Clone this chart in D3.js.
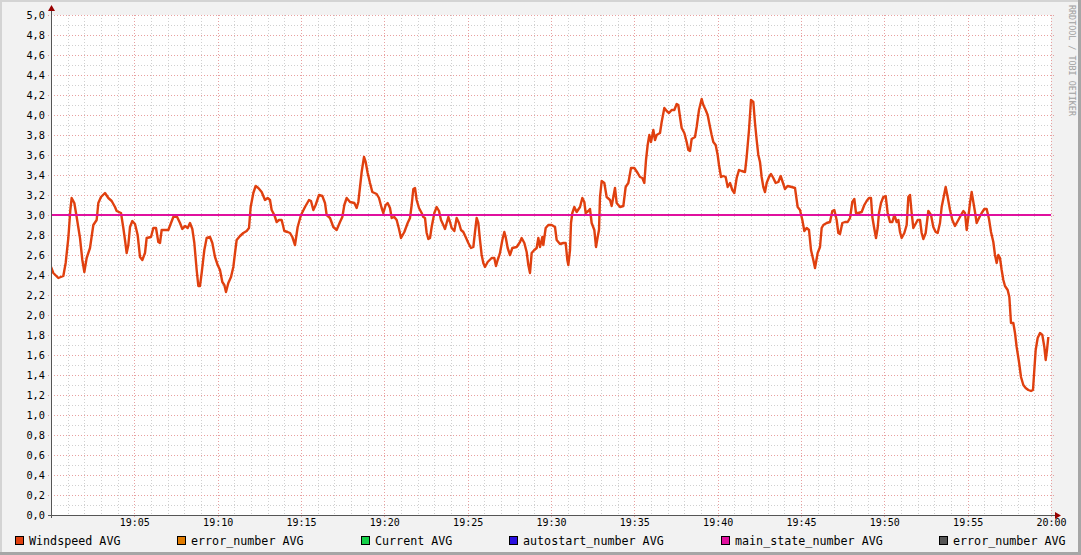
<!DOCTYPE html>
<html><head><meta charset="utf-8">
<script src="https://cdn.jsdelivr.net/npm/d3@7/dist/d3.min.js"></script>
<style>html,body{margin:0;padding:0;background:#f2f2f2;} svg{display:block;}</style>
</head><body><svg id="c" width="1081" height="555"></svg>
<script>
// minutes after 19:00
const windMinutes = [
0.00,0.14,0.44,0.74,0.88,1.04,1.16,1.24,1.40,1.54,1.74,1.88,2.00,2.14,2.34,2.54,2.74,2.84,3.00,3.24,3.44,3.64,3.84,3.94,4.20,4.34,4.44,4.54,4.64,4.74,4.88,5.04,5.20,5.34,5.48,5.64,5.74,6.00,6.14,6.30,6.44,6.54,6.64,7.04,7.20,7.34,7.54,7.74,7.88,8.04,8.20,8.34,8.48,8.60,8.74,8.84,8.94,9.04,9.20,9.34,9.54,9.68,9.84,10.00,10.14,10.28,10.40,10.50,10.64,10.80,10.94,11.04,11.14,11.34,11.54,11.74,11.88,11.98,12.14,12.28,12.44,12.64,12.84,13.00,13.14,13.24,13.40,13.54,13.68,13.84,14.00,14.20,14.34,14.48,14.64,
14.80,15.00,15.24,15.48,15.60,15.74,15.88,16.08,16.28,16.44,16.54,16.74,16.94,17.14,17.34,17.48,17.60,17.74,17.94,18.20,18.34,18.44,18.54,18.64,18.78,18.88,19.00,19.14,19.28,19.54,19.68,19.84,19.94,20.08,20.20,20.34,20.44,20.60,20.74,20.88,21.00,21.20,21.40,21.54,21.64,21.74,21.84,21.94,22.08,22.24,22.34,22.44,22.54,22.64,22.74,22.84,23.00,23.14,23.28,23.40,23.54,23.64,23.74,23.84,23.94,24.04,24.20,24.34,24.48,24.60,24.74,24.88,25.04,25.20,25.34,25.44,25.54,25.64,25.74,25.84,25.94,26.04,26.20,26.44,26.60,26.70,26.80,26.94,27.08,27.20,27.28,27.40,27.54,27.68,27.94,28.14,28.24,28.40,28.54,28.64,28.74,28.84,29.00,29.14,29.24,29.34,29.48,29.54,29.68,
29.84,30.04,30.24,30.34,30.54,30.74,30.88,30.98,31.04,31.14,31.20,31.28,31.40,31.54,31.74,31.88,32.00,32.08,32.24,32.34,32.44,32.60,32.70,32.80,32.88,32.94,33.04,33.20,33.34,33.54,33.64,33.74,33.84,33.94,34.14,34.34,34.48,34.64,34.80,35.00,35.20,35.34,35.48,35.60,35.70,35.80,35.90,36.00,36.14,36.24,36.34,36.54,36.64,36.80,36.94,37.08,37.24,37.40,37.54,37.64,37.74,37.84,38.00,38.14,38.24,38.34,38.44,38.64,38.74,38.88,39.04,39.14,39.28,39.40,39.54,39.64,39.74,39.88,40.00,40.08,40.20,40.34,40.48,40.60,40.74,40.88,41.00,41.14,41.28,41.44,41.64,41.74,41.88,42.00,42.14,42.24,42.34,42.44,42.54,42.64,42.74,42.84,42.94,43.08,43.20,43.34,43.48,43.64,43.78,43.90,44.04,44.20,44.44,44.64,
44.80,44.94,45.08,45.20,45.34,45.48,45.60,45.74,45.84,46.00,46.14,46.24,46.34,46.54,46.74,46.88,47.00,47.14,47.24,47.34,47.48,47.64,47.80,47.94,48.08,48.20,48.30,48.44,48.64,48.80,48.94,49.08,49.20,49.28,49.38,49.50,49.60,49.68,49.80,49.94,50.08,50.20,50.34,50.48,50.60,50.74,50.84,50.94,51.04,51.20,51.34,51.44,51.54,51.64,51.74,51.84,52.00,52.14,52.24,52.34,52.48,52.64,52.80,52.94,53.08,53.20,53.34,53.44,53.56,53.68,53.80,53.94,54.08,54.24,54.44,54.60,54.74,54.84,54.94,55.04,55.14,55.24,55.34,55.44,55.54,55.68,55.84,56.00,56.14,56.28,56.40,56.54,56.64,56.74,56.84,56.94,57.04,57.14,57.24,57.40,57.50,57.60,57.74,57.84,57.94,58.08,58.20,58.34,58.48,58.64,58.80,58.92,59.00,59.08,59.20,59.34,59.48,59.60,59.68,59.76,59.84
];
const windSpeed = [
2.48,2.42,2.37,2.39,2.52,2.77,3.05,3.17,3.12,2.98,2.77,2.55,2.43,2.57,2.67,2.90,2.95,3.12,3.18,3.22,3.17,3.14,3.08,3.04,3.02,2.87,2.75,2.62,2.70,2.88,2.94,2.91,2.80,2.58,2.55,2.62,2.77,2.78,2.87,2.87,2.73,2.72,2.85,2.85,2.92,2.98,2.99,2.92,2.86,2.89,2.87,2.92,2.86,2.72,2.45,2.29,2.29,2.42,2.65,2.77,2.78,2.72,2.58,2.50,2.45,2.33,2.30,2.23,2.32,2.38,2.48,2.62,2.75,2.79,2.82,2.84,2.87,3.08,3.22,3.29,3.27,3.23,3.15,3.17,3.15,3.05,3.00,2.93,2.95,2.95,2.84,2.83,2.82,2.78,2.70,
2.88,3.00,3.08,3.15,3.14,3.05,3.10,3.20,3.19,3.12,3.00,2.97,2.88,2.85,2.93,2.98,3.10,3.17,3.13,3.12,3.07,3.13,3.28,3.43,3.58,3.53,3.42,3.32,3.23,3.21,3.17,3.07,3.02,3.10,3.12,3.07,2.97,2.98,2.95,2.86,2.77,2.83,2.92,2.97,3.10,3.26,3.27,3.15,3.07,3.02,2.98,2.97,2.82,2.76,2.77,2.88,3.02,3.08,3.04,2.95,2.90,2.86,2.92,2.98,2.93,2.87,2.84,2.97,2.92,2.85,2.83,2.78,2.72,2.67,2.68,2.83,2.97,2.92,2.75,2.60,2.52,2.48,2.53,2.57,2.57,2.49,2.55,2.62,2.75,2.83,2.78,2.67,2.60,2.67,2.68,2.73,2.77,2.72,2.63,2.50,2.42,2.62,2.65,2.67,2.77,2.68,2.78,2.70,2.87,
2.90,2.90,2.88,2.75,2.71,2.72,2.72,2.55,2.50,2.65,2.92,3.02,3.08,3.03,3.08,3.17,3.13,3.02,3.04,3.06,2.92,2.85,2.68,2.78,2.85,3.18,3.34,3.32,3.18,3.15,3.09,3.18,3.27,3.12,3.08,3.09,3.28,3.32,3.47,3.47,3.42,3.38,3.37,3.32,3.55,3.70,3.80,3.73,3.85,3.75,3.80,3.82,3.93,4.07,4.04,4.02,4.05,4.05,4.11,4.10,3.98,3.87,3.82,3.73,3.65,3.64,3.76,3.78,3.88,4.05,4.16,4.10,4.05,4.00,3.88,3.80,3.73,3.70,3.60,3.50,3.38,3.39,3.38,3.28,3.32,3.25,3.22,3.37,3.45,3.44,3.43,3.58,3.85,4.15,4.13,3.92,3.75,3.60,3.53,3.38,3.28,3.23,3.32,3.38,3.41,3.37,3.32,3.33,3.39,3.33,3.26,3.29,3.28,3.27,
3.08,3.05,2.95,2.84,2.87,2.85,2.65,2.55,2.47,2.62,2.68,2.87,2.90,2.92,2.93,3.04,3.05,2.95,2.82,2.81,2.92,2.93,2.93,2.97,3.13,3.16,3.02,3.02,3.03,3.10,3.14,3.17,3.17,2.98,2.88,2.77,2.87,3.02,3.12,3.18,3.19,3.02,2.93,2.93,3.00,2.93,2.95,2.83,2.77,2.82,2.90,3.18,3.20,3.02,2.87,2.90,2.95,2.95,2.82,2.76,2.82,3.04,3.00,2.88,2.83,2.82,2.92,3.08,3.18,3.28,3.18,3.05,2.95,2.89,2.95,3.00,3.04,3.02,2.85,2.98,3.12,3.23,3.13,3.03,2.92,2.97,3.02,3.06,3.06,2.96,2.83,2.73,2.60,2.52,2.60,2.57,2.45,2.35,2.29,2.25,2.18,1.92,1.92,1.82,1.68,1.53,1.38,1.30,1.27,1.25,1.24,1.25,1.45,1.65,1.77,1.82,1.80,1.68,1.55,1.65,1.78
];
const mainStateMinutes = [0, 60];
const mainStateValue = [3.0, 3.0];

const yTickValues = [0,0.2,0.4,0.6,0.8,1.0,1.2,1.4,1.6,1.8,2.0,2.2,2.4,2.6,2.8,3.0,3.2,3.4,3.6,3.8,4.0,4.2,4.4,4.6,4.8,5.0];
const xTickLabels = ["19:05","19:10","19:15","19:20","19:25","19:30","19:35","19:40","19:45","19:50","19:55","20:00"];
const legendLabels = ["Windspeed AVG","error_number AVG","Current AVG","autostart_number AVG","main_state_number AVG","error_number AVG"];
const legendColors = ["#e0400f","#e07b00","#14d048","#2a10e0","#e0109e","#555555"];
const watermark = "RRDTOOL / TOBI OETIKER";

const W = 1081, H = 555;
const M = {left: 51, top: 15, right: 1051, bottom: 515};
const svg = d3.select("#c");
const mono = "'DejaVu Sans Mono', monospace";

// background and borders
svg.append("rect").attr("width", W).attr("height", H).attr("fill", "#f2f2f2");
svg.append("rect").attr("x",0).attr("y",0).attr("width",W).attr("height",2).attr("fill","#d4d4d4");
svg.append("rect").attr("x",0).attr("y",0).attr("width",2).attr("height",H).attr("fill","#d4d4d4");
svg.append("rect").attr("x",W-3).attr("y",0).attr("width",3).attr("height",H).attr("fill","#a6a6a6");
svg.append("rect").attr("x",0).attr("y",H-3).attr("width",W).attr("height",3).attr("fill","#a6a6a6");

// plot canvas
svg.append("rect").attr("x", M.left).attr("y", M.top).attr("width", M.right - M.left).attr("height", M.bottom - M.top).attr("fill", "#ffffff");

const base = new Date(2000, 0, 1, 19, 0, 0);
const toDate = m => new Date(base.getTime() + m * 60000);
const x = d3.scaleTime().domain([toDate(0), toDate(60)]).range([M.left, M.right]);
const y = d3.scaleLinear().domain([0, 5]).range([M.bottom, M.top]);

const grid = svg.append("g").attr("shape-rendering", "crispEdges");
const minorX = x.ticks(d3.timeMinute.every(1)).filter(d => d.getMinutes() % 5 !== 0);
grid.selectAll(".mvx").data(minorX).enter().append("line")
  .attr("x1", d => Math.round(x(d)) + 0.5).attr("x2", d => Math.round(x(d)) + 0.5)
  .attr("y1", M.top).attr("y2", M.bottom)
  .attr("stroke", "#d0d0d0").attr("stroke-dasharray", "1,2");
const minorY = d3.range(1, 50, 2).map(i => i / 10);
grid.selectAll(".mhy").data(minorY).enter().append("line")
  .attr("x1", M.left).attr("x2", M.right)
  .attr("y1", d => Math.round(y(d)) + 0.5).attr("y2", d => Math.round(y(d)) + 0.5)
  .attr("stroke", "#d0d0d0").attr("stroke-dasharray", "1,2");
const majorX = x.ticks(d3.timeMinute.every(5)).filter(d => d > toDate(0));
grid.selectAll(".Mvx").data(majorX).enter().append("line")
  .attr("x1", d => Math.round(x(d)) + 0.5).attr("x2", d => Math.round(x(d)) + 0.5)
  .attr("y1", M.top).attr("y2", M.bottom + 3)
  .attr("stroke", "#e8a0a0").attr("stroke-dasharray", "1,2");
grid.selectAll(".Mhy").data(yTickValues.filter(d => d > 0)).enter().append("line")
  .attr("x1", M.left - 3).attr("x2", M.right + 3)
  .attr("y1", d => Math.round(y(d)) + 0.5).attr("y2", d => Math.round(y(d)) + 0.5)
  .attr("stroke", "#e8a0a0").attr("stroke-dasharray", "1,2");

// series
svg.append("clipPath").attr("id", "clip").append("rect")
  .attr("x", M.left).attr("y", M.top - 2).attr("width", M.right - M.left + 2).attr("height", M.bottom - M.top + 2);
const windData = windMinutes.map((m, i) => ({t: toDate(m), v: windSpeed[i]}));
const stateData = mainStateMinutes.map((m, i) => ({t: toDate(m), v: mainStateValue[i]}));
const line = d3.line().x(d => x(d.t)).y(d => y(d.v));
const series = svg.append("g").attr("clip-path", "url(#clip)");
series.append("path").datum(windData).attr("d", line)
  .attr("fill", "none").attr("stroke", legendColors[0]).attr("stroke-width", 2.4).attr("stroke-linejoin", "round");
series.append("path").datum(stateData).attr("d", line)
  .attr("fill", "none").attr("stroke", legendColors[4]).attr("stroke-width", 2);

// axes
const fmtY = d => d3.format(".1f")(d).replace(".", ",");
const yAxis = svg.append("g").attr("transform", `translate(${M.left},0)`)
  .call(d3.axisLeft(y).tickValues(yTickValues).tickFormat(fmtY).tickSize(0).tickPadding(6));
yAxis.select(".domain").remove();
yAxis.selectAll("text").attr("font-family", mono).attr("font-size", "10.3px").attr("fill", "#000");

const parseHM = d3.timeParse("%H:%M");
const xTickDates = xTickLabels.map(s => { const p = parseHM(s); return toDate((p.getHours() - 19) * 60 + p.getMinutes()); });
const xAxis = svg.append("g").attr("transform", `translate(0,${M.bottom})`)
  .call(d3.axisBottom(x).tickValues(xTickDates).tickFormat(d3.timeFormat("%H:%M")).tickSize(0).tickPadding(4));
xAxis.select(".domain").remove();
xAxis.selectAll("text").attr("font-family", mono).attr("font-size", "10px").attr("fill", "#000");

// axis lines
svg.append("line").attr("x1", M.left + 0.5).attr("x2", M.left + 0.5).attr("y1", M.top - 5).attr("y2", M.bottom + 3)
  .attr("stroke", "#555").attr("shape-rendering", "crispEdges");
svg.append("line").attr("x1", M.left - 3).attr("x2", M.right + 5).attr("y1", M.bottom + 0.5).attr("y2", M.bottom + 0.5)
  .attr("stroke", "#555").attr("shape-rendering", "crispEdges");
svg.append("path").attr("d", `M${M.left - 3},${M.top - 4} L${M.left + 4},${M.top - 4} L${M.left + 0.5},${M.top - 10} Z`).attr("fill", "#990000");
svg.append("path").attr("d", `M${M.right + 4},${M.bottom - 3} L${M.right + 4},${M.bottom + 4} L${M.right + 10},${M.bottom + 0.5} Z`).attr("fill", "#990000");

// legend
const lg = svg.append("g");
const items = legendLabels.map((lab, i) => {
  const g = lg.append("g");
  g.append("rect").attr("x", 0.5).attr("y", 536.5).attr("width", 8).attr("height", 8)
    .attr("fill", legendColors[i]).attr("stroke", "#000");
  const t = g.append("text").attr("x", 14).attr("y", 541).attr("dy", "0.35em")
    .attr("font-family", mono).attr("font-size", "11.7px").attr("fill", "#000").text(lab);
  return {g, w: 14 + t.node().getComputedTextLength()};
});
const startX = 15, endX = 1066;
const totalW = d3.sum(items, d => d.w);
const gap = (endX - startX - totalW) / (items.length - 1);
let cx = startX;
items.forEach(it => { it.g.attr("transform", `translate(${Math.round(cx)},0)`); cx += it.w + gap; });

// watermark
svg.append("text").attr("transform", "translate(1072,5) rotate(90)")
  .attr("font-family", mono).attr("font-size", "8.4px").attr("fill", "#a0a0a0")
  .attr("dy", "0.35em").text(watermark);
</script></body></html>
